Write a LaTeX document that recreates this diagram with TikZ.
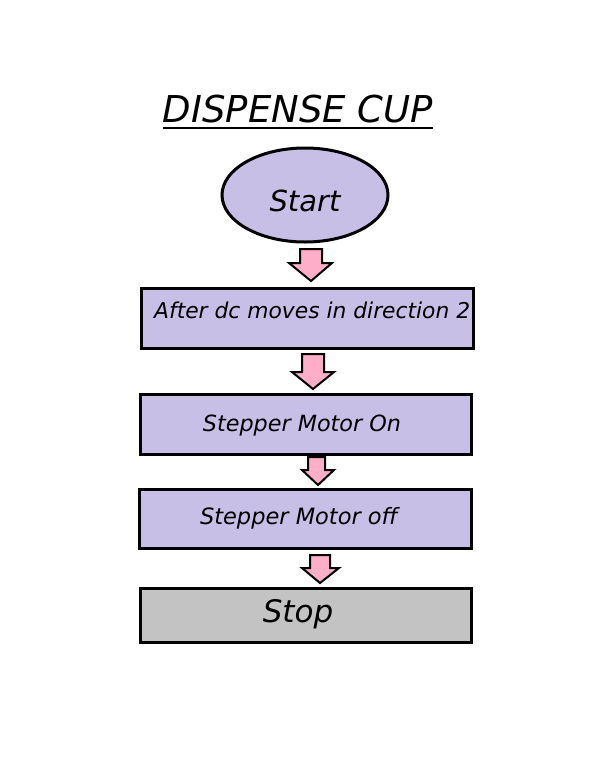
\documentclass[tikz,border=0pt]{standalone}
\usepackage{fontspec}
\setmainfont{DejaVu Sans}
\definecolor{lav}{RGB}{200,191,231}
\definecolor{pinkarrow}{RGB}{255,174,201}
\definecolor{stopgray}{RGB}{195,195,195}
\begin{document}
\begin{tikzpicture}[x=1pt,y=-1pt,
  box/.style={draw=black,line width=3pt,fill=lav},
  lbl/.style={font=\itshape,inner sep=0pt},
  blockarrow/.style={draw=black,line width=2pt,fill=pinkarrow,line join=miter}]
\useasboundingbox (0,0) rectangle (596,774);
\fill[white] (0,0) rectangle (596,774);
% title
\node[lbl,font=\fontsize{37}{40}\selectfont\itshape] (title) at (298,109) {DISPENSE CUP};
\draw[line width=2.6pt] (163,128) -- (433,128);
% start ellipse
\draw[box] (305,195) ellipse [x radius=83,y radius=47];
\node[lbl,font=\fontsize{29}{31}\selectfont\itshape] (start) at (305,201) {Start};
% boxes
\draw[box] (141,288) rectangle (473,348);
\node[lbl,font=\fontsize{21.8}{24}\selectfont\itshape,anchor=west] (b1) at (154,310) {After dc moves in direction 2};
\draw[box] (140,394) rectangle (471,454);
\node[lbl,font=\fontsize{22.3}{24}\selectfont\itshape] (b2) at (302,426) {Stepper Motor On};
\draw[box] (139,489) rectangle (471,548);
\node[lbl,font=\fontsize{22.5}{24}\selectfont\itshape] (b3) at (299,518) {Stepper Motor off};
\draw[box,fill=stopgray] (140,588) rectangle (471,642);
\node[lbl,font=\fontsize{31}{33}\selectfont\itshape] (b4) at (298,614) {Stop};
% block arrows
\draw[blockarrow] (300,249) -- (322,249) -- (322,263) -- (332,263) -- (311,281) -- (289,263) -- (300,263) -- cycle;
\draw[blockarrow] (302,354) -- (324,354) -- (324,372) -- (334,372) -- (313,389) -- (292,372) -- (302,372) -- cycle;
\draw[blockarrow] (308,457) -- (325,457) -- (325,470) -- (334,470) -- (318,485) -- (302,470) -- (308,470) -- cycle;
\draw[blockarrow] (310,555) -- (330,555) -- (330,568) -- (339,568) -- (320,583) -- (302,568) -- (310,568) -- cycle;
\end{tikzpicture}
\end{document}
